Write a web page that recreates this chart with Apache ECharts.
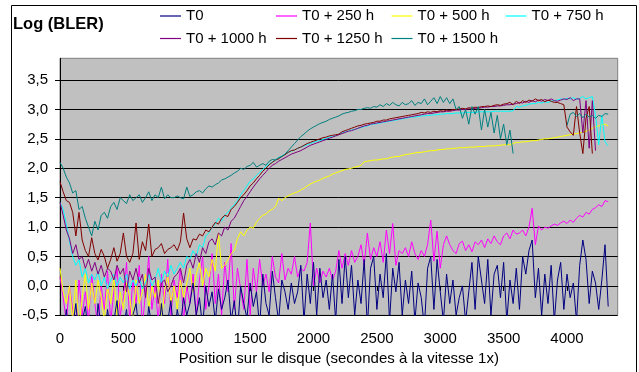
<!DOCTYPE html>
<html>
<head>
<meta charset="utf-8">
<script src="https://cdn.jsdelivr.net/npm/echarts@6/dist/echarts.min.js"></script>
<style>html,body{margin:0;padding:0;background:#fff}#chart{width:639px;height:372px}</style>
</head>
<body>
<div id="chart"></div>
<script>
const positions = [0,25,50,75,100,125,150,175,200,225,250,275,300,325,350,375,400,425,450,475,500,525,550,575,600,625,650,675,700,725,750,775,800,825,850,875,900,925,950,975,1000,1025,1050,1075,1100,1125,1150,1175,1200,1225,1250,1275,1300,1325,1350,1375,1400,1425,1450,1475,1500,1525,1550,1575,1600,1625,1650,1675,1700,1725,1750,1775,1800,1825,1850,1875,1900,1925,1950,1975,2000,2025,2050,2075,2100,2125,2150,2175,2200,2225,2250,2275,2300,2325,2350,2375,2400,2425,2450,2475,2500,2525,2550,2575,2600,2625,2650,2675,2700,2725,2750,2775,2800,2825,2850,2875,2900,2925,2950,2975,3000,3025,3050,3075,3100,3125,3150,3175,3200,3225,3250,3275,3300,3325,3350,3375,3400,3425,3450,3475,3500,3525,3550,3575,3600,3625,3650,3675,3700,3725,3750,3775,3800,3825,3850,3875,3900,3925,3950,3975,4000,4025,4050,4075,4100,4125,4150,4175,4200,4225,4250,4275,4300,4325];

const xTicks = [0,500,1000,1500,2000,2500,3000,3500,4000];
const yTicks = [-0.5,0,0.5,1,1.5,2,2.5,3,3.5];

const seriesNames = ["T0","T0 + 250 h","T0 + 500 h","T0 + 750 h","T0 + 1000 h","T0 + 1250 h","T0 + 1500 h"];

const t0 = [-0.6,-0.9,-0.4,-1.0,-0.7,-0.3,-0.9,-0.6,-0.35,-0.8,-0.5,-1.0,-0.3,-0.7,-0.9,-0.4,-0.8,-0.6,-0.25,-0.9,-0.7,-0.4,-1.0,-0.5,-0.3,-0.8,-0.6,-0.9,-0.35,-0.7,-0.5,-0.9,-0.3,-0.8,-0.6,-0.25,-0.9,-0.4,-0.7,-0.2,-0.5,
-0.3,0.05,-0.5,-0.2,-0.7,0.0,-0.35,-0.1,-0.6,-0.05,-0.4,-0.2,0.1,-0.6,-0.25,-0.8,0.0,-0.3,-0.55,0.05,
-0.35,-0.1,-0.7,0.2,-0.3,-0.5,0.25,-0.2,-0.6,0.1,-0.1,-0.4,0.05,-0.3,-0.1,0.35,-0.6,0.2,-0.3,0.4,
-0.5,0.3,-0.2,0.1,-0.4,0.2,-0.6,0.45,-0.3,0.5,-0.2,0.35,-0.5,0.1,-0.3,0.45,-0.7,0.3,0.5,-0.4,
0.2,-0.2,0.55,-0.6,0.3,-0.1,0.4,-0.5,0.1,-0.3,0.25,-0.6,0.05,-0.2,-0.7,0.3,0.5,-0.4,0.45,-0.1,
-0.6,0.2,-0.3,0.1,-0.5,-0.2,0.0,-0.6,-0.1,0.4,-0.4,0.5,0.1,-0.3,0.45,-0.5,0.2,0.35,-0.2,0.4,
-0.6,0.1,-0.3,0.3,-0.4,0.5,0.2,0.6,0.78,-0.2,0.3,-0.5,0.2,-0.3,0.35,-0.6,0.1,0.4,-0.4,0.2,
-0.2,0.05,-0.6,0.35,0.78,0.45,-0.3,0.25,0.05,-0.4,0.1,0.7,-0.35];

const t250 = [0.15,-0.2,-0.6,0.0,-0.4,-0.8,0.1,-0.5,-0.1,-0.6,0.2,-0.3,-0.7,0.0,-0.4,0.25,-0.6,-0.1,0.3,-0.5,-0.2,0.4,-0.6,0.1,-0.3,0.35,-0.7,-0.1,0.5,-0.4,0.0,-0.6,0.2,-0.3,0.45,-0.5,0.1,-0.2,0.3,-0.6,0.0,
-0.3,0.2,-0.5,0.1,0.5,-0.4,0.0,0.55,-0.3,0.2,-0.5,0.4,-0.1,0.72,-0.4,0.3,-0.05,-0.4,0.45,-0.5,
0.3,-0.1,0.45,0.0,0.2,-0.1,0.5,0.15,0.05,0.55,0.1,0.3,0.2,0.5,0.15,0.3,0.25,0.4,1.07,0.0,
0.3,0.05,0.25,0.15,0.3,0.1,0.25,0.6,0.3,0.55,0.35,0.6,0.4,0.5,0.7,0.35,0.9,0.45,0.65,0.5,
0.75,0.4,0.95,0.55,1.06,0.35,0.6,0.55,0.65,0.5,0.75,0.55,0.45,0.6,0.5,0.7,1.12,0.42,0.93,0.3,
0.7,0.85,0.7,0.6,0.55,0.72,0.76,0.6,0.7,0.58,0.75,0.7,0.78,0.65,0.8,0.72,0.85,0.75,0.7,0.85,
0.9,0.8,0.95,0.88,0.9,0.95,0.85,1.0,1.32,0.7,1.02,0.95,1.0,0.98,1.02,1.05,1.03,1.07,1.1,1.06,
1.12,1.08,1.15,1.2,1.17,1.25,1.22,1.3,1.33,1.38,1.35,1.45,1.43];

const t500 = [0.3,-0.1,-0.3,0.0,-0.6,0.1,-0.7,-0.2,0.2,-0.4,0.05,-0.3,0.1,-0.2,-0.6,0.0,-0.3,0.15,-0.5,-0.1,-0.4,0.05,-0.2,-0.6,0.1,-0.3,-0.1,0.2,-0.4,0.0,-0.2,0.1,-0.6,-0.1,0.2,-0.3,0.0,-0.4,0.1,-0.2,0.05,
0.3,-0.1,0.2,0.4,0.0,0.3,0.15,0.45,0.25,0.9,0.3,0.35,0.45,0.55,0.6,0.8,0.92,0.85,0.95,1.0,
0.98,1.08,1.15,1.2,1.22,1.28,1.3,1.35,1.49,1.45,1.5,1.53,1.56,1.58,1.6,1.63,1.66,1.7,1.73,1.76,
1.78,1.8,1.83,1.85,1.87,1.9,1.92,1.94,1.96,1.98,1.99,2.0,2.02,2.03,2.05,2.11,2.12,2.13,2.14,2.14,
2.15,2.16,2.16,2.18,2.19,2.2,2.2,2.22,2.23,2.24,2.25,2.26,2.27,2.27,2.28,2.29,2.3,2.3,2.31,2.32,
2.32,2.33,2.33,2.34,2.34,2.35,2.35,2.35,2.36,2.36,2.36,2.37,2.37,2.37,2.38,2.38,2.38,2.39,2.39,2.4,
2.4,2.4,2.42,2.44,2.44,2.45,2.45,2.46,2.47,2.47,2.48,2.49,2.5,2.5,2.51,2.52,2.53,2.54,2.55,2.56,
2.57,2.58,2.59,2.6,2.61,2.63,2.65,2.68,2.71,2.72,2.74,2.75,2.72];

const t750 = [1.42,1.3,1.05,0.75,0.5,0.35,0.45,0.15,0.3,0.05,0.2,0.1,0.25,0.0,0.15,-0.05,0.1,0.2,0.0,0.15,0.05,0.2,-0.05,0.1,0.0,0.15,-0.05,0.05,0.2,0.0,0.1,0.3,0.05,0.25,0.15,0.35,0.2,0.3,0.4,0.3,0.5,
0.45,0.6,0.5,0.7,0.65,0.85,0.9,1.0,1.05,1.15,1.1,1.2,1.25,1.32,1.38,1.45,1.55,1.62,1.7,1.78,
1.82,1.88,1.93,1.98,2.03,2.07,2.11,2.15,2.18,2.21,2.24,2.27,2.29,2.31,2.34,2.36,2.38,2.4,2.42,2.44,
2.46,2.47,2.49,2.51,2.53,2.54,2.56,2.58,2.6,2.62,2.63,2.65,2.66,2.68,2.69,2.71,2.72,2.74,2.75,2.76,
2.77,2.78,2.79,2.8,2.81,2.82,2.83,2.84,2.85,2.86,2.87,2.87,2.88,2.89,2.89,2.9,2.9,2.91,2.91,2.92,
2.92,2.93,2.93,2.93,2.94,2.94,2.94,2.95,2.95,2.95,2.95,2.96,2.96,2.96,2.96,2.96,2.97,2.97,2.97,2.97,
2.97,2.97,2.98,3.05,3.04,3.06,3.07,3.09,3.1,3.1,3.12,3.11,3.13,3.12,3.14,3.15,3.16,3.18,3.17,3.19,
3.18,3.2,3.17,3.19,3.22,3.18,3.2,3.22,2.9,2.4,2.9,2.45,2.38];

const t1000 = [1.42,1.2,0.95,0.8,0.55,0.7,0.45,0.5,0.3,0.45,0.25,0.4,0.2,0.35,0.15,0.3,0.25,0.1,0.35,0.2,0.3,-0.1,0.25,0.1,0.3,0.05,0.2,-0.2,0.3,0.1,0.15,-0.3,0.05,0.1,-0.1,0.0,0.15,0.2,0.3,0.05,0.35,
0.45,0.3,0.55,0.4,0.65,0.55,0.75,0.8,0.7,0.9,0.85,1.0,0.95,1.1,1.15,1.25,1.35,1.45,1.52,1.6,
1.68,1.75,1.82,1.88,1.94,2.0,2.05,2.08,2.12,2.15,2.18,2.21,2.24,2.26,2.28,2.3,2.33,2.36,2.39,2.41,
2.43,2.45,2.47,2.49,2.51,2.53,2.55,2.57,2.59,2.61,2.63,2.64,2.66,2.68,2.7,2.72,2.73,2.75,2.76,2.77,
2.78,2.79,2.8,2.81,2.82,2.83,2.84,2.85,2.86,2.87,2.88,2.89,2.9,2.91,2.92,2.93,2.93,2.94,2.95,2.96,
2.96,2.97,2.97,2.98,2.99,2.99,3.0,3.0,3.01,3.01,3.02,3.02,3.03,3.04,3.04,3.05,3.05,3.06,3.06,3.07,
3.08,3.08,3.09,3.1,3.12,3.11,3.14,3.12,3.15,3.13,3.16,3.14,3.17,3.15,3.18,3.15,3.14,3.16,3.18,3.17,
3.2,3.15,3.18,3.18,2.6,3.15,2.34,3.15,2.3,null,null,null,null];

const t1250 = [1.77,1.6,1.45,1.42,1.25,0.85,1.25,0.78,0.6,0.5,0.82,0.55,0.44,0.62,0.5,0.3,0.45,0.65,0.42,0.55,0.9,0.5,0.4,0.55,1.07,0.45,0.75,0.6,1.05,0.5,0.62,0.65,0.72,0.55,0.62,0.65,0.7,0.6,0.75,1.24,0.8,
0.65,0.8,0.78,0.88,0.85,0.95,0.92,1.0,1.08,1.05,1.15,1.2,1.18,1.3,1.35,1.42,1.5,1.55,1.62,1.7,
1.75,1.82,1.88,1.95,2.0,2.06,2.1,2.14,2.16,2.2,2.23,2.27,2.3,2.31,2.34,2.36,2.39,2.42,2.44,2.46,
2.48,2.5,2.52,2.53,2.55,2.56,2.57,2.58,2.62,2.64,2.66,2.68,2.7,2.72,2.73,2.75,2.76,2.77,2.78,2.8,
2.8,2.82,2.82,2.84,2.85,2.86,2.87,2.88,2.89,2.9,2.91,2.92,2.93,2.95,2.94,2.96,2.95,2.97,2.96,2.98,
2.97,2.99,2.98,3.0,3.0,3.01,3.02,3.01,3.03,3.02,3.04,3.03,3.05,3.05,3.06,3.05,3.07,3.08,3.07,3.09,
3.1,3.12,3.08,3.14,3.1,3.15,3.12,3.16,3.14,3.18,3.15,3.17,3.13,3.16,3.14,3.12,3.12,3.1,3.08,2.7,
2.62,2.56,3.05,2.6,2.25,2.85,3.05,2.25,null,null,null,null,null];

const t1500 = [2.1,2.0,1.85,1.75,1.58,1.62,1.3,1.35,1.15,1.0,0.85,1.1,0.95,1.2,1.25,1.15,1.35,1.42,1.3,1.5,1.45,1.4,1.55,1.45,1.5,1.55,1.42,1.5,1.6,1.45,1.55,1.5,1.68,1.48,1.55,1.5,1.5,1.53,1.5,1.48,1.68,
1.52,1.55,1.6,1.62,1.58,1.65,1.7,1.68,1.72,1.75,1.8,1.82,1.85,1.88,1.92,1.95,2.0,1.98,2.03,2.05,
2.1,2.02,2.05,2.08,2.05,2.12,2.15,2.14,2.18,2.2,2.24,2.3,2.36,2.42,2.48,2.54,2.58,2.63,2.67,2.7,
2.73,2.76,2.78,2.8,2.83,2.85,2.87,2.89,2.92,2.94,2.95,2.97,2.98,3.0,3.0,3.02,3.03,3.02,3.05,3.04,
3.08,3.05,3.1,3.07,3.12,3.08,3.06,3.12,3.08,3.1,3.15,3.07,3.12,3.1,3.18,3.08,3.14,3.2,3.1,3.22,
3.12,3.2,3.1,3.18,3.0,3.05,2.85,3.0,2.75,3.05,2.92,3.05,2.65,3.0,2.7,2.95,2.6,2.9,2.5,2.75,
2.4,2.65,2.25,null,null,null,null,null,null,null,null,null,null,null,null,null,null,null,null,2.73,2.92,
2.95,2.88,2.93,2.86,2.92,2.87,2.9,2.85,2.9,2.88,2.93,2.92,2.95];

const seriesValues = [t0, t250, t500, t750, t1000, t1250, t1500];
const seriesColors = ["#000080","#FF00FF","#FFFF00","#00FFFF","#800080","#800000","#008080"];

const FONT = '"Liberation Sans", Arial, sans-serif';
const chart = echarts.init(document.getElementById('chart'), null, {renderer: 'canvas'});

const legendPos = [
  {left: 160, top: 8.5}, {left: 276, top: 8.5}, {left: 391.5, top: 8.5}, {left: 505.5, top: 8.5},
  {left: 160, top: 31}, {left: 276, top: 31}, {left: 391.5, top: 31}
];

const fmt = v => (Math.round(v * 10) / 10).toFixed(1).replace('.', ',');

const option = {
  backgroundColor: '#ffffff',
  animation: false,
  textStyle: {fontFamily: FONT},
  grid: {
    left: 60, right: 21.3, top: 58.3, bottom: 56.7,
    show: true, backgroundColor: '#C0C0C0', borderColor: '#808080', borderWidth: 1
  },
  legend: seriesNames.map((n, i) => ({
    data: [{name: n, icon: 'rect', itemStyle: {color: seriesColors[i]}}],
    left: legendPos[i].left, top: legendPos[i].top,
    itemWidth: 21, itemHeight: 1.2, padding: 0,
    textStyle: {fontSize: 15, color: '#000', fontFamily: FONT}
  })),
  xAxis: {
    type: 'value', min: 0, max: 4400, interval: 500,
    name: 'Position sur le disque (secondes à la vitesse 1x)',
    nameLocation: 'middle', nameGap: 29,
    nameTextStyle: {fontSize: 15, color: '#000', fontFamily: FONT},
    axisLine: {show: true, lineStyle: {color: '#000', width: 1}},
    axisTick: {show: true, inside: false, length: 5, lineStyle: {color: '#000'}, customValues: xTicks},
    axisLabel: {fontSize: 15, color: '#000', margin: 16, fontFamily: FONT, customValues: xTicks,
      formatter: v => String(v)},
    splitLine: {show: false}
  },
  yAxis: {
    type: 'value', min: -0.5, max: 3.87, interval: 0.5,
    axisLine: {show: true, lineStyle: {color: '#000', width: 1}},
    axisTick: {show: true, inside: false, length: 5, lineStyle: {color: '#000'}, customValues: yTicks},
    axisLabel: {fontSize: 15, color: '#000', margin: 12, fontFamily: FONT, customValues: yTicks,
      formatter: fmt},
    splitLine: {show: true, lineStyle: {color: '#000', width: 1}}
  },
  graphic: [
    {type: 'rect', silent: true, z: 100,
     shape: {x: 11.5, y: 5.5, width: 625, height: 400},
     style: {fill: 'none', stroke: '#000', lineWidth: 1}},
    {type: 'text', left: 13, top: 16, z: 100,
     style: {text: 'Log (BLER)', fontSize: 16.5, fontWeight: 'bold', fill: '#000', fontFamily: FONT}}
  ],
  series: seriesNames.map((n, i) => ({
    name: n, type: 'line', symbol: 'none', showSymbol: false, clip: true,
    z: i === 0 ? 3 : 2,
    color: seriesColors[i],
    lineStyle: {width: 1, color: seriesColors[i]},
    data: positions.map((x, k) => [x, seriesValues[i][k] === undefined ? null : seriesValues[i][k]])
  }))
};
chart.setOption(option);
</script>
</body>
</html>
